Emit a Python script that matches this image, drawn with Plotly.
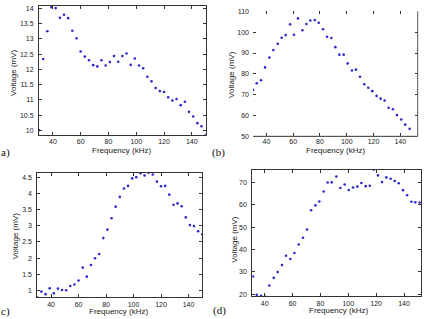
import plotly.graph_objects as go

W, H = 424, 319

# ---------------- data ----------------
freq_a = [30, 33, 36, 39, 42, 45, 48, 51, 54, 57, 60, 63, 66, 69, 72, 75, 78, 81, 84, 87,
          90, 93, 96, 99, 102, 105, 108, 111, 114, 117, 120, 123, 126, 129, 132, 135, 138,
          141, 144, 147, 150]
volt_a = [10.01, 12.34, 13.25, 14.04, 14.01, 13.69, 13.79, 13.68, 13.27, 13.02, 12.59, 12.42,
          12.30, 12.14, 12.10, 12.30, 12.13, 12.24, 12.44, 12.25, 12.44, 12.52, 12.15, 12.36,
          12.13, 12.04, 11.76, 11.61, 11.39, 11.29, 11.26, 11.09, 10.98, 11.03, 10.83, 10.94,
          10.61, 10.46, 10.24, 10.14, 9.85]

freq_b = [30.0, 32.8, 36.0, 39.0, 42.2, 45.2, 48.5, 51.4, 54.4, 57.7, 60.6, 63.6, 66.9, 69.9,
          72.8, 76.1, 79.1, 82.3, 85.3, 88.5, 91.5, 94.5, 97.7, 100.7, 103.9, 106.9, 109.9,
          113.1, 116.1, 119.1, 122.3, 125.3, 128.3, 131.3, 134.5, 137.5, 140.7, 143.7, 147.0]
volt_b = [72.3, 75.5, 76.9, 83.1, 87.8, 91.4, 94.4, 97.3, 98.6, 103.75, 98.75, 106.6, 100.9,
          103.9, 105.6, 105.8, 104.5, 101.4, 97.8, 97.2, 92.8, 89.2, 89.2, 85.0, 81.6, 82.0,
          78.6, 75.0, 73.3, 71.7, 69.4, 68.1, 67.2, 63.75, 63.0, 60.2, 58.1, 55.6, 53.6]

freq_c = [30, 33, 36, 39, 42, 45, 48, 51, 54, 57, 60, 63, 66, 69, 72, 75, 78, 81, 84, 87,
          90, 93, 96, 99, 102, 105, 108, 111, 114, 117, 120, 123, 126, 129, 132, 135, 138,
          141, 144, 147, 150]
volt_c = [0.79, 0.97, 0.89, 1.07, 0.92, 1.06, 1.02, 1.01, 1.14, 1.19, 1.31, 1.71, 1.43, 1.79,
          2.00, 2.13, 2.62, 2.88, 3.23, 3.59, 3.89, 4.15, 4.23, 4.46, 4.50, 4.62, 4.55, 4.64,
          4.58, 4.36, 4.22, 4.23, 3.96, 3.65, 3.69, 3.60, 3.26, 3.02, 2.99, 2.83, 2.74]

freq_d = [31.6, 34.3, 37.4, 40.2, 43.3, 46.5, 49.3, 52.4, 55.3, 58.4, 61.3, 64.4, 67.5, 70.4,
          73.3, 76.4, 79.2, 82.3, 85.2, 88.1, 91.4, 94.3, 97.4, 100.3, 103.4, 106.5, 109.4,
          112.5, 115.4, 118.2, 121.3, 124.2, 127.3, 130.4, 133.3, 136.2, 139.3, 142.2, 145.3,
          148.1, 151.2]
volt_d = [27.9, 19.7, 19.3, 19.0, 23.9, 27.3, 29.9, 33.0, 37.2, 35.7, 38.4, 42.2, 45.2, 48.9,
          57.5, 59.7, 61.4, 65.9, 69.9, 70.0, 72.6, 67.5, 69.0, 66.6, 67.7, 68.1, 69.7, 68.3,
          68.5, 75.7, 73.1, 70.1, 72.2, 71.6, 70.6, 69.6, 66.5, 64.2, 61.3, 61.1, 61.0]

xticks = [40, 60, 80, 100, 120, 140]
yticks_a = [10, 10.5, 11, 11.5, 12, 12.5, 13, 13.5, 14]
yticks_b = [50, 60, 70, 80, 90, 100, 110]
yticks_c = [1, 1.5, 2, 2.5, 3, 3.5, 4, 4.5]
yticks_d = [20, 30, 40, 50, 60, 70]
panel_labels = ["a)", "(b)", "c)", "(d)"]
x_title = "Frequency (kHz)"
y_title = "Voltage (mV)"

# ---------------- layout helpers ----------------
def px_x(p):
    return p / W

def px_y(p):
    return 1 - p / H

# pixel boxes: left, right, top, bottom
boxes = [
    (39, 205.7, 2, 134),
    (253, 417.7, 7.5, 135.3),
    (37.3, 202.3, 172.7, 300),
    (252.3, 421.3, 169.3, 299),
]
xranges = [[30, 150], [30, 153], [30, 150], [31.1, 152.4]]
yranges = [[9.85, 14.08], [50, 110], [0.79, 4.63], [19.0, 75.7]]
yticks = [yticks_a, yticks_b, yticks_c, yticks_d]
data = [(freq_a, volt_a), (freq_b, volt_b), (freq_c, volt_c), (freq_d, volt_d)]

tick_font = dict(family="Liberation Sans, Arial", size=7, color="#222")
title_font = dict(family="Liberation Sans, Arial", size=8, color="#222")

fig = go.Figure()
layout = dict(
    width=W, height=H, margin=dict(l=0, r=0, t=0, b=0),
    paper_bgcolor="white", plot_bgcolor="white", showlegend=False,
)

shapes = []
for i, ((fx, vy), box) in enumerate(zip(data, boxes)):
    n = "" if i == 0 else str(i + 1)
    fig.add_trace(go.Scatter(
        x=fx, y=vy, mode="markers", xaxis="x" + n, yaxis="y" + n,
        marker=dict(size=2.6, color="#2a2acc", line=dict(width=0)),
    ))
    l, r, t, b = box
    full_box = i != 1
    layout["xaxis" + n] = dict(
        domain=[px_x(l), px_x(r)], anchor="y" + n, range=xranges[i],
        tickvals=xticks, ticks="inside", ticklen=3, tickcolor="#333",
        showline=full_box, linecolor="#333", linewidth=1, mirror="ticks",
        showgrid=False, zeroline=False, tickfont=tick_font, ticklabelstandoff=0,
    )
    layout["yaxis" + n] = dict(
        domain=[px_y(b), px_y(t)], anchor="x" + n, range=yranges[i],
        tickvals=yticks[i], ticks="inside", ticklen=3, tickcolor="#333",
        showline=full_box, linecolor="#333", linewidth=1, mirror="ticks",
        showgrid=False, zeroline=False, tickfont=tick_font, ticklabelstandoff=3,
    )
    if not full_box:
        # only bottom and right frame lines are visible in this panel
        shapes.append(dict(type="line", xref="paper", yref="paper",
                           x0=px_x(l), x1=px_x(r), y0=px_y(b), y1=px_y(b),
                           line=dict(color="#333", width=1)))
        shapes.append(dict(type="line", xref="paper", yref="paper",
                           x0=px_x(r), x1=px_x(r), y0=px_y(b), y1=px_y(t),
                           line=dict(color="#555", width=1)))

layout["shapes"] = shapes

ann = []
ytitle_pos = [(13.5, 70), (231.5, 72), (15.5, 237), (235, 240)]
xtitle_pos = [(121, 150), (335, 150), (118, 314.5), (338.7, 313.5)]
label_pos = [(5, 152), (218.5, 152), (5, 314), (219, 313)]
for i in range(4):
    ann.append(dict(text=y_title, x=px_x(ytitle_pos[i][0]), y=px_y(ytitle_pos[i][1]),
                    xref="paper", yref="paper", showarrow=False, textangle=-90,
                    xanchor="center", yanchor="middle", font=title_font))
    ann.append(dict(text=x_title, x=px_x(xtitle_pos[i][0]), y=px_y(xtitle_pos[i][1]),
                    xref="paper", yref="paper", showarrow=False,
                    xanchor="center", yanchor="middle", font=title_font))
    ann.append(dict(text=panel_labels[i], x=px_x(label_pos[i][0]), y=px_y(label_pos[i][1]),
                    xref="paper", yref="paper", showarrow=False,
                    xanchor="center", yanchor="middle",
                    font=dict(family="Liberation Serif, Times New Roman", size=11, color="#111")))
layout["annotations"] = ann

fig.update_layout(**layout)
fig.write_html("out.html")
